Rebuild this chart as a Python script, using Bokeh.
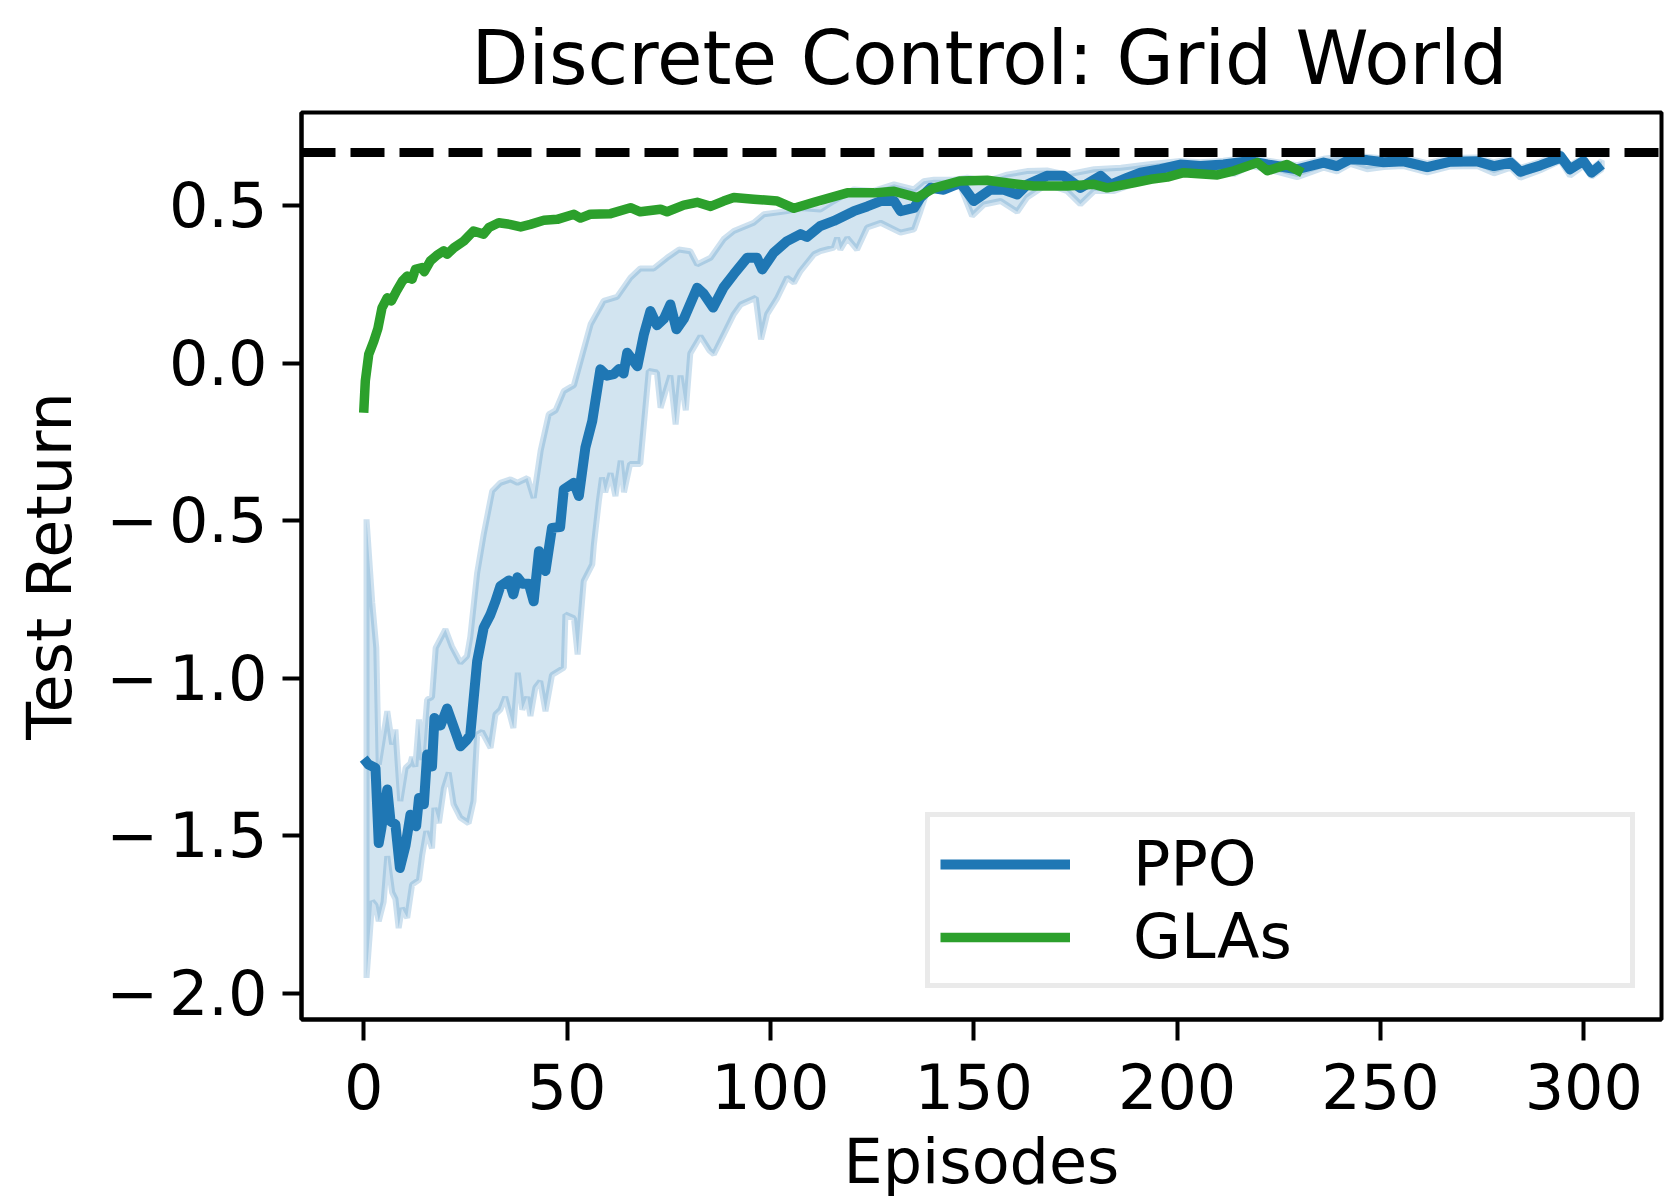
from bokeh.plotting import figure
from bokeh.models import Range1d, FixedTicker, CustomJSTickFormatter, Span, Legend, LegendItem
from bokeh.embed import file_html
from bokeh.resources import INLINE

# ---- data ----
ppo_x = [0, 1.2, 2.9, 3.7, 4.3, 5.8, 6.6, 7.8, 8.9, 10.3, 11.5, 12.9, 13.6, 14.8, 15.6, 16.8, 17.4, 18.9,
         20.5, 23.8, 25.4, 26.2, 27.9, 29.5, 31.1, 32.4, 33.6, 35.7, 36.8, 37.8, 39, 40.6, 41.8, 43.1, 44.7,
         46.3, 48.3, 49.2, 51.7, 52.9, 54.5, 56.2, 58.2, 59.8, 61.5, 62.7, 63.9, 64.8, 67.3, 68.9, 70.5, 72.1,
         73.8, 75.4, 76.9, 78.7, 82, 83.6, 85.9, 88.5, 91, 94.3, 96.7, 98, 100.8, 104.1, 107.4, 109, 112.3,
         115.6, 120.5, 123.8, 127.1, 130.4, 132, 135.3, 136.9, 139.4, 142.6, 146.7, 150, 154.1, 157.4, 160.7,
         163.1, 168, 172.1, 176.2, 181.2, 183.7, 187.8, 191, 195.9, 200.8, 205.7, 211.4, 218, 222.2, 229.5,
         236, 239.3, 242.6, 246.7, 250.8, 255.7, 261.5, 267.2, 273.8, 277.9, 282, 284.4, 289.3, 293.4, 294.2,
         296.6, 299.9, 301.9, 304.4]
ppo_mean = [-1.255, -1.274, -1.285, -1.523, -1.48, -1.353, -1.454, -1.464, -1.602, -1.53, -1.433, -1.47, -1.38,
            -1.40, -1.242, -1.28, -1.126, -1.15, -1.096, -1.216, -1.195, -1.18, -0.946, -0.84, -0.80, -0.756,
            -0.708, -0.69, -0.734, -0.68, -0.70, -0.70, -0.756, -0.597, -0.66, -0.523, -0.52, -0.401, -0.38,
            -0.422, -0.269, -0.184, -0.02, -0.04, -0.035, -0.02, -0.033, 0.033, -0.01, 0.091, 0.165, 0.12, 0.14,
            0.186, 0.107, 0.14, 0.239, 0.22, 0.176, 0.24, 0.282, 0.334, 0.334, 0.297, 0.35, 0.387, 0.409, 0.40,
            0.435, 0.451, 0.482, 0.497, 0.514, 0.514, 0.482, 0.492, 0.525, 0.556, 0.55, 0.572, 0.514, 0.55,
            0.55, 0.535, 0.566, 0.594, 0.594, 0.556, 0.594, 0.566, 0.588, 0.604, 0.615, 0.63, 0.625, 0.63,
            0.641, 0.63, 0.615, 0.636, 0.625, 0.647, 0.644, 0.637, 0.64, 0.622, 0.639, 0.64, 0.625, 0.636,
            0.607, 0.627, 0.647, 0.657, 0.615, 0.641, 0.604, 0.63]

ppo_upper_x = [0.7, 2.1, 3.1, 3.7, 5.8, 7, 7.8, 9, 10.3, 11.5, 11.9, 12.7, 13.6, 14.4, 15.6, 16.8, 17.7, 20.1,
               21.7, 23.8, 25.4, 26.2, 27.9, 29.5, 31.6, 33.6, 36.1, 37.8, 40.3, 41.8, 43.5, 45.5, 47.2, 49.2,
               51.7, 55.8, 59, 62.3, 65.6, 68, 71.3, 74.6, 77.5, 80.3, 82, 85.3, 88.5, 91, 95.9, 98.4, 104.1,
               107.4, 112.3, 115.6, 120.5, 125.4, 130.4, 135.3, 137.7, 140.2, 145.1, 148.4, 153.3, 158.2, 163.1,
               168, 172.9, 179.6, 186.2, 192.7, 200.8, 205.7, 211.4, 218, 222.2, 229.5, 236, 242.6, 250.8, 255.7,
               261.5, 267.2, 273.8, 277.9, 282, 284.4, 289.3, 294.2, 296.6, 299.9, 301.9, 304.4]
ppo_upper = [-0.496, -0.76, -0.904, -1.274, -1.105, -1.21, -1.163, -1.39, -1.285, -1.27, -1.25, -1.28, -1.131,
             -1.26, -1.068, -1.06, -0.904, -0.845, -0.90, -0.951, -0.93, -0.87, -0.666, -0.544, -0.406, -0.38,
             -0.369, -0.38, -0.365, -0.428, -0.279, -0.163, -0.15, -0.089, -0.07, 0.123, 0.197, 0.21, 0.271, 0.30,
             0.30, 0.334, 0.36, 0.355, 0.313, 0.334, 0.393, 0.419, 0.445, 0.472, 0.482, 0.492, 0.487, 0.514,
             0.551, 0.546, 0.567, 0.551, 0.577, 0.582, 0.582, 0.588, 0.577, 0.598, 0.609, 0.611, 0.598, 0.615,
             0.62, 0.63, 0.641, 0.637, 0.642, 0.653, 0.642, 0.628, 0.648, 0.659, 0.649, 0.652, 0.634, 0.651,
             0.652, 0.637, 0.648, 0.619, 0.639, 0.668, 0.627, 0.653, 0.616, 0.642]

ppo_lower_x = [0.7, 2.1, 2.9, 3.7, 4.9, 5.8, 7, 7.8, 8.6, 9.4, 10.7, 11.9, 13.6, 14.4, 15.4, 16.8, 17.4, 18.5,
               19.7, 20.9, 22.1, 23.8, 25.8, 27, 27.9, 29.1, 31.2, 32.4, 33.6, 34.8, 36.8, 37.9, 39, 40.2, 41,
               42.2, 43.4, 44.7, 46.3, 49.2, 49.6, 51.7, 52.6, 54.1, 56.2, 56.6, 57.8, 58.6, 59.4, 60.7, 61.9,
               63.2, 64, 65.5, 68, 70.1, 72.1, 73, 74.2, 75.4, 76.7, 77.9, 79.2, 80.3, 82.8, 85, 86.1, 88.5, 91,
               92.7, 96.4, 97.7, 99.2, 101.7, 104.1, 105.8, 107.4, 110.7, 112.3, 115.6, 116.4, 117.2, 118.9,
               121.3, 123.8, 127.1, 132, 135.3, 136.9, 138.5, 141.8, 146.7, 149.6, 152.5, 156.6, 160.7, 163.1,
               168, 172.9, 176.2, 179.6, 184.5, 187.8, 191, 195.9, 200.8, 205.7, 211.4, 214, 218, 222.2, 229.5,
               236, 239.3, 242.6, 246.7, 250.8, 255.7, 261.5, 267.2, 273.8, 277.9, 282, 284.4, 289.3, 294.2,
               296.6, 299.9, 301.9, 304.4]
ppo_lower = [-1.951, -1.708, -1.72, -1.771, -1.71, -1.565, -1.68, -1.70, -1.793, -1.73, -1.76, -1.655, -1.64,
             -1.56, -1.486, -1.54, -1.412, -1.46, -1.35, -1.30, -1.40, -1.443, -1.46, -1.39, -1.179, -1.17,
             -1.221, -1.115, -1.10, -1.06, -1.158, -0.983, -1.10, -1.06, -1.12, -1.03, -1.01, -1.105, -0.99,
             -0.967, -0.798, -0.81, -0.925, -0.692, -0.639, -0.576, -0.44, -0.364, -0.41, -0.35, -0.422, -0.31,
             -0.41, -0.32, -0.32, -0.025, -0.03, -0.142, -0.09, -0.04, -0.195, -0.04, -0.15, 0.03, 0.085, 0.04,
             0.028, 0.09, 0.155, 0.186, 0.207, 0.075, 0.155, 0.207, 0.271, 0.255, 0.292, 0.345, 0.355, 0.366,
             0.397, 0.36, 0.397, 0.36, 0.43, 0.445, 0.414, 0.424, 0.482, 0.546, 0.556, 0.561, 0.467, 0.503,
             0.514, 0.48, 0.525, 0.567, 0.546, 0.504, 0.546, 0.546, 0.561, 0.577, 0.588, 0.615, 0.61, 0.615,
             0.60, 0.626, 0.615, 0.59, 0.62, 0.608, 0.632, 0.615, 0.622, 0.625, 0.605, 0.624, 0.625, 0.602,
             0.62, 0.588, 0.612, 0.642, 0.595, 0.626, 0.592, 0.615]

glas_x = [0, 0.4, 1.25, 2.5, 3.5, 4.5, 5.8, 6.8, 8.1, 9.5, 10.7, 11.9, 12.7, 14.4, 14.9, 16.4, 18, 19.7, 20.5,
          22.2, 24.6, 27, 29.5, 30.8, 33.2, 35.9, 38.6, 41, 44.3, 47.6, 51.7, 53.3, 55.7, 60.7, 65.6, 68, 73,
          74.6, 78.7, 82, 85.3, 88.5, 91, 95.9, 101.7, 105.8, 110.7, 118.9, 125.5, 130.4, 136.1, 140.2, 146.7,
          153.3, 159.8, 164.7, 173, 179.6, 182.8, 189.4, 193.5, 197.6, 201.6, 209.9, 214, 219.7, 222.2, 227,
          230.8]
glas_mean = [-0.158, -0.057, 0.028, 0.07, 0.11, 0.175, 0.207, 0.197, 0.229, 0.26, 0.276, 0.266, 0.297, 0.303,
             0.29, 0.324, 0.342, 0.356, 0.345, 0.366, 0.387, 0.419, 0.409, 0.43, 0.445, 0.44, 0.432, 0.44, 0.453,
             0.456, 0.472, 0.46, 0.472, 0.474, 0.493, 0.48, 0.488, 0.48, 0.501, 0.51, 0.497, 0.514, 0.525, 0.52,
             0.514, 0.491, 0.51, 0.54, 0.54, 0.545, 0.525, 0.555, 0.578, 0.58, 0.569, 0.562, 0.562, 0.567, 0.556,
             0.572, 0.583, 0.59, 0.604, 0.597, 0.61, 0.636, 0.61, 0.63, 0.604]

optimal_return = 0.668
x_ticks = [0, 50, 100, 150, 200, 250, 300]
y_ticks = [-2.0, -1.5, -1.0, -0.5, 0.0, 0.5]
title_text = "Discrete Control: Grid World"
x_label = "Episodes"
y_label = "Test Return"

FONT = "DejaVu Sans"
BLUE = "#1f77b4"
GREEN = "#2ca02c"

p = figure(width=1664, height=1203, output_backend="svg", toolbar_location=None,
           x_range=Range1d(-15.29, 319.1), y_range=Range1d(-2.083, 0.795),
           min_border_left=301, min_border_right=3, min_border_top=112, min_border_bottom=184)
p.background_fill_color = "white"
p.border_fill_color = "white"
p.outline_line_color = "black"
p.outline_line_width = 4
p.xgrid.visible = False
p.ygrid.visible = False

p.title.text = title_text
p.title.text_font = FONT
p.title.text_font_size = "74px"
p.title.text_font_style = "normal"
p.title.text_color = "black"
p.title.align = "left"
p.title.offset = 170
p.title.standoff = 24

for ax, ticks, out in ((p.xaxis[0], x_ticks, 21), (p.yaxis[0], y_ticks, 19)):
    ax.ticker = FixedTicker(ticks=ticks)
    ax.major_tick_out = out
    ax.major_tick_in = 0
    ax.minor_tick_line_color = None
    ax.major_tick_line_width = 4
    ax.axis_line_width = 4
    ax.major_label_text_font = FONT
    ax.major_label_text_font_size = "62px"
    ax.major_label_text_color = "black"
    ax.axis_label_text_font = FONT
    ax.axis_label_text_font_size = "62px"
    ax.axis_label_text_font_style = "normal"
    ax.axis_label_text_color = "black"

p.xaxis[0].major_label_standoff = 22
p.yaxis[0].major_label_standoff = 15
p.xaxis[0].formatter = CustomJSTickFormatter(code="return tick.toFixed(0);")
p.yaxis[0].formatter = CustomJSTickFormatter(
    code="return (tick < 0 ? '\u2212\u2006' : '') + Math.abs(tick).toFixed(1);")

p.yaxis[0].axis_label = y_label
p.yaxis[0].axis_label_standoff = 18
p.xaxis[0].axis_label = x_label
p.xaxis[0].axis_label_standoff = 13

band_xs = ppo_upper_x + ppo_lower_x[::-1]
band_ys = ppo_upper + ppo_lower[::-1]
p.patch(band_xs, band_ys, fill_color=BLUE, fill_alpha=0.2, line_color=BLUE, line_alpha=0.22, line_width=6)

r_ppo = p.line(ppo_x, ppo_mean, line_color=BLUE, line_width=10, line_join="round")
r_glas = p.line(glas_x, glas_mean, line_color=GREEN, line_width=9.5, line_join="round")

p.add_layout(Span(location=optimal_return, dimension="width", line_color="black",
                  line_width=9, line_dash="34 15"))

legend = Legend(items=[LegendItem(label="PPO", renderers=[r_ppo]),
                       LegendItem(label="GLAs", renderers=[r_glas])],
                location=(624, 31))
legend.label_text_font = FONT
legend.label_text_font_size = "62px"
legend.label_text_color = "black"
legend.glyph_width = 130
legend.label_standoff = 63
legend.label_width = 487
legend.padding = 10
legend.spacing = 0
legend.margin = 0
legend.border_line_color = "#d6d6d6"
legend.border_line_width = 5
legend.background_fill_alpha = 0.8
p.add_layout(legend)

open("out.html", "w").write(file_html(p, INLINE))
